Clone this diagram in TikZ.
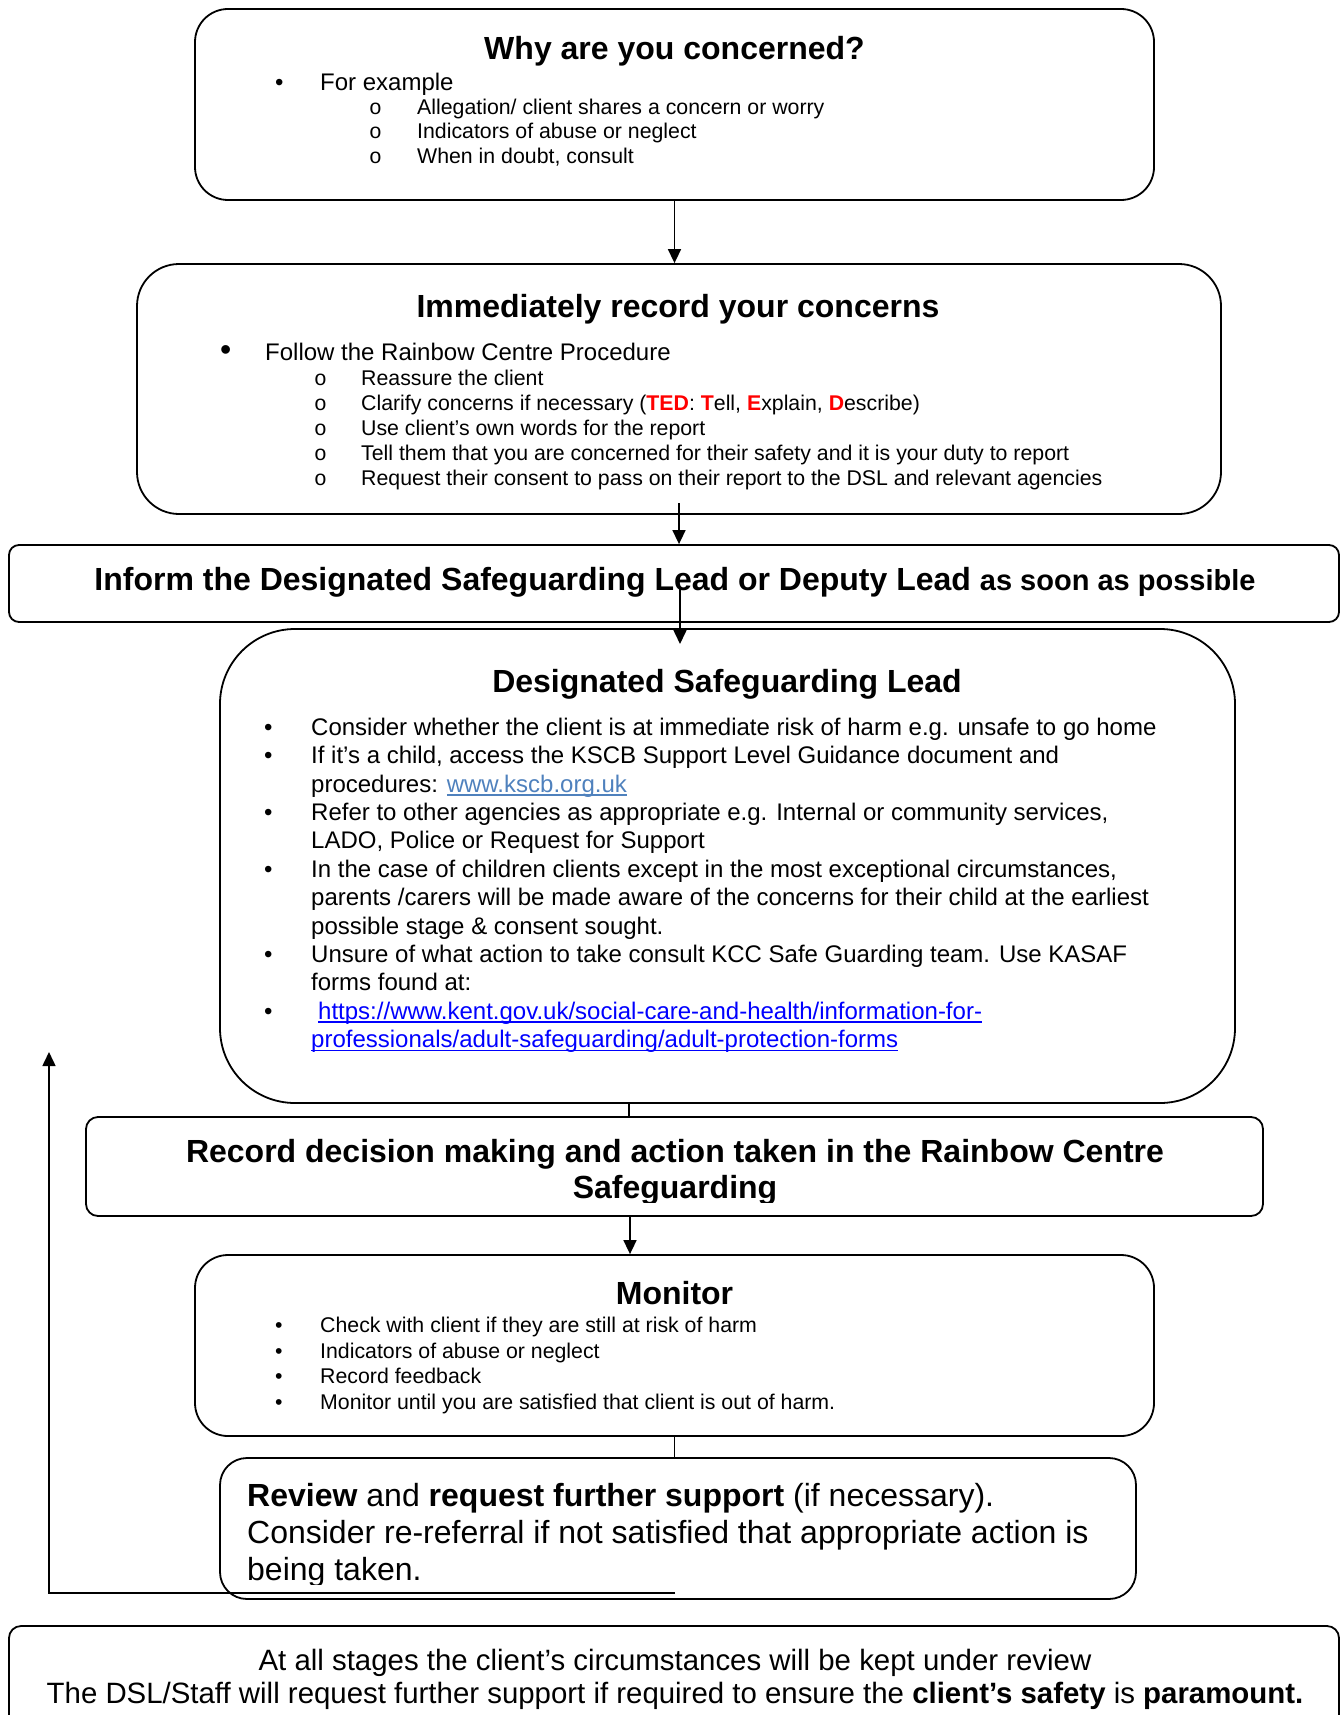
\documentclass[tikz,border=0pt]{standalone}
\usepackage{fontspec}
\setmainfont{Liberation Sans}
\newfontfamily\ringfont{Liberation Mono}
\usepackage{tikz}
\usetikzlibrary{arrows.meta}
\definecolor{kscbblue}{RGB}{79,129,189}
\definecolor{kentblue}{RGB}{0,0,255}
\newcommand\redb[1]{{\color{red}\bfseries #1}}
\newcommand\wordline[1]{\setbox0\hbox{#1}\rlap{\rule[-3.5pt]{\wd0}{1.3pt}}\box0}
\tikzstyle{stage}=[draw, line width=1.8pt, inner sep=0pt]
\tikzstyle{headtxt}=[font=\fontsize{32}{36}\selectfont\bfseries, anchor=base, inner sep=0pt]
\tikzstyle{bodytxt}=[font=\fontsize{24}{28}\selectfont, anchor=base west, inner sep=0pt]
\tikzstyle{smalltxt}=[font=\fontsize{21.3}{25}\selectfont, anchor=base west, inner sep=0pt]
\tikzstyle{flow}=[-{Triangle[length=14pt,width=13pt]}, line width=1.6pt]
\tikzstyle{link}=[line width=1.6pt]

\begin{document}
\begin{tikzpicture}[x=1pt,y=-1pt]
\useasboundingbox (0,0) rectangle (1341,1715);
% boxes
\node[stage, rounded corners=33pt, minimum width=959pt, minimum height=191pt] (why) at (674.5,104.5) {};
\node[stage, rounded corners=42pt, minimum width=1084pt, minimum height=250pt] (record) at (679,389) {};
\node[stage, rounded corners=10pt, minimum width=1330pt, minimum height=77pt] (inform) at (674,583.5) {};
\node[stage, rounded corners=75pt, minimum width=1015pt, minimum height=474pt] (dsl) at (727.5,866) {};
\node[stage, rounded corners=12pt, minimum width=1177pt, minimum height=99pt] (decision) at (674.5,1166.5) {};
\node[stage, rounded corners=33pt, minimum width=959pt, minimum height=181pt] (monitor) at (674.5,1345.5) {};
\node[stage, rounded corners=27pt, minimum width=916pt, minimum height=141pt] (review) at (678,1528.5) {};
\node[stage, rounded corners=12pt, minimum width=1330pt, minimum height=134pt] (stages) at (674,1693) {};

% why are you concerned
\node[headtxt] (why-t) at (674.5,59.5) {Why are you concerned?};
\node[bodytxt] (why-b) at (275,90.5) {•};
\node[bodytxt] (why-0) at (320,90.5) {For example};
\foreach \ln [count=\i] in {Allegation/ client shares a concern or worry,
  Indicators of abuse or neglect, {When in doubt, consult}}
{
  \node[smalltxt] (why-o\i) at (369,{114.5+(\i-1)*24.5}) {\ringfont o};
  \node[smalltxt] (why-\i) at (417,{114.5+(\i-1)*24.5}) {\ln};
}

% immediately record
\node[headtxt] (record-t) at (678,317.5) {Immediately record your concerns};
\node[bodytxt, font=\fontsize{32}{36}\selectfont] (record-b) at (220,360.5) {•};
\node[bodytxt] (record-0) at (265,360.5) {Follow the Rainbow Centre Procedure};
\foreach \ln [count=\i] in {Reassure the client,
  {Clarify concerns if necessary (\redb{TED}: \redb{T}ell, \redb{E}xplain, \redb{D}escribe)},
  Use client’s own words for the report,
  Tell them that you are concerned for their safety and it is your duty to report,
  Request their consent to pass on their report to the DSL and relevant agencies}
{
  \node[smalltxt] (record-o\i) at (314,{385.5+(\i-1)*25}) {\ringfont o};
  \node[smalltxt] (record-\i) at (361,{385.5+(\i-1)*25}) {\ln};
}

% inform
\node[headtxt] (inform-t) at (675,590.5) {Inform the Designated Safeguarding Lead or Deputy Lead
  {\fontsize{29}{34}\selectfont as soon as possible}};

% designated safeguarding lead
\node[headtxt] (dsl-t) at (727,692.5) {Designated Safeguarding Lead};
\foreach \ln [count=\i] in {
  {Consider whether the client is at immediate risk of harm e.g. unsafe to go home},
  {If it’s a child, access the KSCB Support Level Guidance document and},
  {procedures: {\color{kscbblue}\wordline{www.kscb.org.uk}}},
  {Refer to other agencies as appropriate e.g. Internal or community services,},
  {LADO, Police or Request for Support},
  {In the case of children clients except in the most exceptional circumstances,},
  {parents /carers will be made aware of the concerns for their child at the earliest},
  {possible stage \& consent sought.},
  {Unsure of what action to take consult KCC Safe Guarding team. Use KASAF},
  {forms found at:},
  {\hspace{7pt}{\color{kentblue}\wordline{https://www.kent.gov.uk/social-care-and-health/information-for-}}},
  {{\color{kentblue}\wordline{professionals/adult-safeguarding/adult-protection-forms}}}}
  \node[bodytxt] (dsl-\i) at (311,{735.5+(\i-1)*28.36}) {\ln};
\foreach \i in {1,2,4,6,9,11}
  \node[bodytxt] (dsl-b\i) at (264,{735.5+(\i-1)*28.36}) {•};

% record decision
\node[headtxt] (decision-1) at (675,1162.5) {Record decision making and action taken in the Rainbow Centre};
\begin{scope}
\clip (0,1130) rectangle (1341,1202);
\node[headtxt] (decision-2) at (675,1198.5) {Safeguarding};
\end{scope}

% monitor
\node[headtxt] (monitor-t) at (674.5,1304.5) {Monitor};
\foreach \ln [count=\i] in {Check with client if they are still at risk of harm,
  Indicators of abuse or neglect, Record feedback,
  Monitor until you are satisfied that client is out of harm.}
{
  \node[smalltxt] (monitor-b\i) at (275,{1332.5+(\i-1)*25.7}) {•};
  \node[smalltxt] (monitor-\i) at (320,{1332.5+(\i-1)*25.7}) {\ln};
}

% review
\node[bodytxt, font=\fontsize{32}{37}\selectfont] (review-1) at (247,1506.5)
  {\textbf{Review} and \textbf{request further support} (if necessary).};
\node[bodytxt, font=\fontsize{32}{37}\selectfont] (review-2) at (247,1543.5)
  {Consider re-referral if not satisfied that appropriate action is};
\begin{scope}
\clip (0,1550) rectangle (1341,1584);
\node[bodytxt, font=\fontsize{32}{37}\selectfont] (review-3) at (247,1580.5) {being taken.};
\end{scope}

% at all stages
\node[headtxt, font=\fontsize{29.4}{34}\selectfont] (stages-1) at (675,1670.5)
  {At all stages the client’s circumstances will be kept under review};
\node[headtxt, font=\fontsize{29.4}{34}\selectfont] (stages-2) at (675,1703.5)
  {The DSL/Staff will request further support if required to ensure the \textbf{client’s safety} is \textbf{paramount.}};

% connectors
\coordinate (record-out) at (679,503);
\coordinate (inform-out) at (680,587);
\coordinate (dsl-in) at (680,644);
\coordinate (dsl-out) at (629,1103);
\coordinate (decision-out) at (630,1216);
\coordinate (back-start) at (675,1593);
\coordinate (back-end) at (49,1052);
\draw[flow] (why.south) -- (why.south |- record.north);
\draw[flow] (record-out) -- (record-out |- inform.north);
\draw[flow] (inform-out) -- (dsl-in);
\draw[link] (dsl-out) -- (dsl-out |- decision.north);
\draw[flow] (decision-out) -- (decision-out |- monitor.north);
\draw[link] (monitor.south) -- (monitor.south |- review.north);
\draw[flow] (back-start) -| (back-end);
\end{tikzpicture}
\end{document}
